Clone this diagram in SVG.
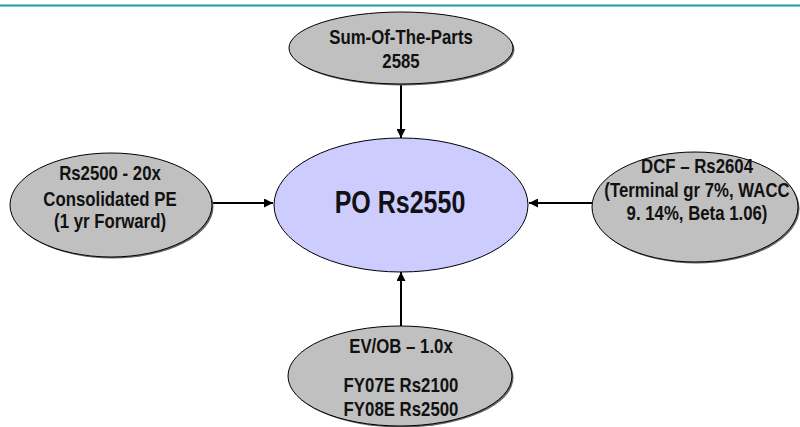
<svg xmlns="http://www.w3.org/2000/svg" width="800" height="427" viewBox="0 0 800 427">
<defs>
<style>
.n{fill:#c0c0c0;stroke:#000;stroke-width:1}
.sh{fill:#666}
.c{fill:#ccccff;stroke:#000;stroke-width:1}
.t{font-family:"Liberation Sans",Arial,sans-serif;font-weight:bold;font-size:20px;text-anchor:middle;fill:#111}
.big{font-family:"Liberation Sans",Arial,sans-serif;font-weight:bold;font-size:30.5px;text-anchor:middle;fill:#111}
.e{stroke:#000;stroke-width:2;fill:none;marker-end:url(#ah)}
</style>
<marker id="ah" viewBox="0 0 10 10" refX="10" refY="5" markerWidth="4.5" markerHeight="4.5" orient="auto" markerUnits="strokeWidth">
<path d="M0,0 L10,5 L0,10 z" fill="#000"/>
</marker>
</defs>
<rect x="0" y="0" width="800" height="427" fill="#fff"/>
<line x1="0" y1="5.5" x2="800" y2="5.5" stroke="#1a9aa8" stroke-width="2"/>
<g id="connectors">
<line class="e" x1="401" y1="84" x2="401" y2="138"/>
<line class="e" x1="212" y1="203" x2="273" y2="203"/>
<line class="e" x1="592" y1="203" x2="529" y2="203"/>
<line class="e" x1="401" y1="327" x2="401" y2="272"/>
</g>
<g id="sotp">
<ellipse class="sh" cx="402.5" cy="49.5" rx="112" ry="36"/>
<ellipse class="n" cx="401" cy="48" rx="112" ry="36"/>
<g transform="translate(401,0) scale(0.84,1)">
<text class="t" x="0" y="44.5">Sum-Of-The-Parts</text>
<text class="t" x="0" y="68.5">2585</text>
</g>
</g>
<g id="pe">
<ellipse class="sh" cx="112.5" cy="206.5" rx="101" ry="52"/>
<ellipse class="n" cx="111" cy="205" rx="101" ry="52"/>
<g transform="translate(110,0) scale(0.84,1)">
<text class="t" x="0" y="180">Rs2500 - 20x</text>
<text class="t" x="0" y="206">Consolidated PE</text>
<text class="t" x="0" y="228">(1 yr Forward)</text>
</g>
</g>
<g id="po">
<ellipse class="c" cx="401" cy="205" rx="127" ry="67"/>
<g transform="translate(400,0) scale(0.82,1)">
<text class="big" x="0" y="213">PO Rs2550</text>
</g>
</g>
<g id="dcf">
<ellipse class="sh" cx="696.5" cy="208.5" rx="103" ry="55"/>
<ellipse class="n" cx="695" cy="207" rx="103" ry="55"/>
<g transform="translate(697,0) scale(0.84,1)">
<text class="t" x="0" y="173.5">DCF – Rs2604</text>
<text class="t" x="0" y="197">(Terminal gr 7%, WACC</text>
<text class="t" x="0" y="220">9. 14%, Beta 1.06)</text>
</g>
</g>
<g id="evob">
<ellipse class="sh" cx="401.5" cy="377.5" rx="112" ry="50"/>
<ellipse class="n" cx="400" cy="376" rx="112" ry="50"/>
<g transform="translate(401,0) scale(0.84,1)">
<text class="t" x="0" y="353.5">EV/OB – 1.0x</text>
<text class="t" x="0" y="392">FY07E Rs2100</text>
<text class="t" x="0" y="416">FY08E Rs2500</text>
</g>
</g>
</svg>
